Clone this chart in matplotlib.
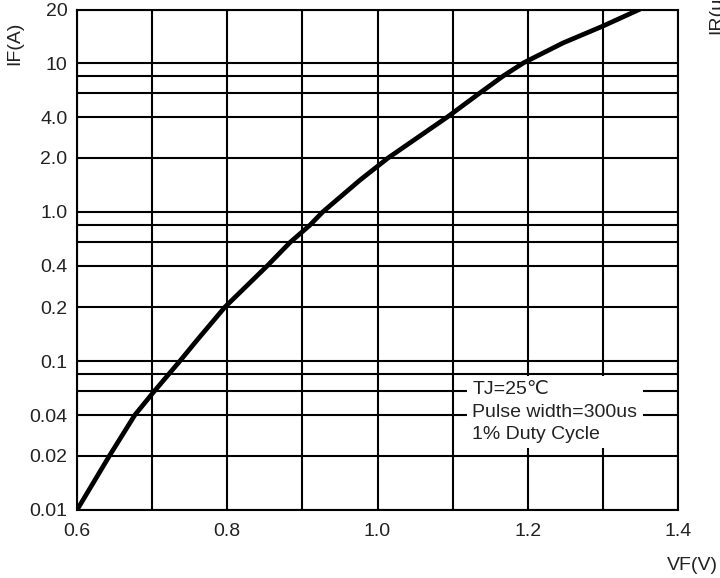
import numpy as np
import matplotlib
matplotlib.use("Agg")
import matplotlib.pyplot as plt

plt.rcParams["font.family"] = ["Liberation Sans", "DejaVu Sans"]

# forward characteristic
vf = [0.600, 0.643, 0.677, 0.703, 0.737, 0.760, 0.797, 0.853, 0.884, 0.910,
      0.927, 0.977, 1.014, 1.093, 1.136, 1.167, 1.194, 1.247, 1.300, 1.347]
if_amp = [0.01, 0.02, 0.04, 0.06, 0.1, 0.131, 0.2, 0.4, 0.6, 0.8,
          1.0, 1.51, 2.0, 4.0, 6.0, 8.0, 10.0, 13.0, 16.2, 20.0]

x_ticks = [0.6, 0.8, 1.0, 1.2, 1.4]
x_grid = [0.7, 0.9, 1.1, 1.3]
y_ticks = [0.01, 0.02, 0.04, 0.1, 0.2, 0.4, 1.0, 2.0, 4.0, 10, 20]
y_labels = ["0.01", "0.02", "0.04", "0.1", "0.2", "0.4", "1.0", "2.0", "4.0", "10", "20"]
y_grid = [0.06, 0.08, 0.6, 0.8, 6, 8]

# the paper's y axis is not a true log axis: each decade is split 1-2-4-10
# with uneven spacing, log-interpolated inside each step
anchor_val = [0.001, 0.002, 0.004, 0.01, 0.02, 0.04, 0.1, 0.2, 0.4, 1, 2, 4, 10, 20, 40, 100]
anchor_pos = [-149, -95, -54, 0, 54, 95, 149, 203, 244, 298, 352, 393, 447, 500, 541, 595]
log_anchor = np.log10(anchor_val)


def fwd(v):
    v = np.clip(np.asarray(v, dtype=float), 1e-4, None)
    return np.interp(np.log10(v), log_anchor, anchor_pos)


def inv(p):
    return 10 ** np.interp(np.asarray(p, dtype=float), anchor_pos, log_anchor)


fig = plt.figure(figsize=(7.2, 5.78), dpi=100)
ax = fig.add_axes([77 / 720, 1 - 510 / 578, 601 / 720, 500 / 578])
ax.set_yscale("function", functions=(fwd, inv))
ax.set_xlim(0.6, 1.4)
ax.set_ylim(0.01, 20)

ax.plot(vf, if_amp, color="black", lw=3.4, zorder=4, solid_joinstyle="round")

ax.set_xticks(x_ticks)
ax.set_xticklabels([f"{v:.1f}" for v in x_ticks])
ax.set_xticks(x_grid, minor=True)
ax.set_yticks(y_ticks)
ax.set_yticklabels(y_labels)
ax.set_yticks(y_grid, minor=True)
ax.yaxis.set_minor_formatter(plt.NullFormatter())
ax.xaxis.set_minor_formatter(plt.NullFormatter())

ax.grid(True, which="both", color="black", lw=1.5)
ax.tick_params(which="both", length=0, labelsize=14, colors="#222222")
ax.tick_params(axis="x", pad=9)
ax.tick_params(axis="y", pad=7)
for s in ax.spines.values():
    s.set_linewidth(1.5)

ax.text(1.126, 0.042, "TJ=25\u2103\nPulse width=300us\n1% Duty Cycle",
        fontsize=14, color="#222222", ha="left", va="center", linespacing=1.4,
        bbox=dict(facecolor="white", edgecolor="none", pad=4), zorder=5)

fig.text(692 / 720, 1 - 565 / 578, "VF(V)", fontsize=14, color="#222222",
         ha="center", va="center")
fig.text(15 / 720, 1 - 43 / 578, "IF(A)", fontsize=14, color="#222222",
         ha="center", va="center", rotation=90)
# label of the neighbouring chart, cut by the page edge in the original
fig.text(717 / 720, 1 - 34 / 578, "IR(\u03bcA)", fontsize=14, color="#222222",
         ha="center", va="bottom", rotation=90)

fig.savefig("out.png", dpi=100)
